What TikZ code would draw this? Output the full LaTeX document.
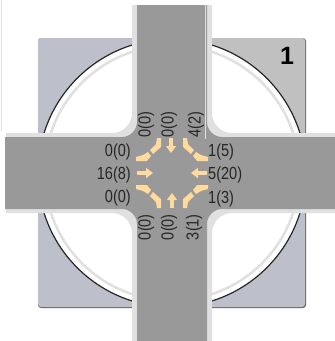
\documentclass[tikz,border=0pt]{standalone}
\usepackage{fontspec}
\setmainfont{Liberation Sans}
\newfontfamily\countfont[FakeStretch=0.83]{Liberation Sans}
\usetikzlibrary{arrows.meta}
\definecolor{islandblue}{RGB}{189, 192, 202}
\definecolor{islandgrey}{RGB}{192, 192, 192}
\definecolor{roadgrey}{RGB}{153, 153, 153}
\definecolor{kerblight}{RGB}{224, 224, 224}
\definecolor{movepale}{RGB}{255, 218, 158}
\begin{document}
\begin{tikzpicture}[
    x=1pt, y=-1pt,
    count/.style={font=\countfont\fontsize{17.5}{17.5}\selectfont, inner sep=0pt, text=black!85},
    countup/.style={count, rotate=90},
    through/.style={-{Triangle[width=10pt,length=7pt]}, line width=3.5pt, movepale},
    turning/.style={fill=movepale, draw=none}
]
    \useasboundingbox (0,0) rectangle (335,341);

    % Island and circle
    \fill[black!60, rounded corners=3pt] (38,38) rectangle (306,308);
    \fill[islandblue, rounded corners=3pt] (38,38) rectangle (305,307);
    \fill[islandgrey, rounded corners=3pt] (172,38) rectangle (305,173);
    \draw[black!85, line width=1.2pt, fill=white] (172,173) circle[radius=134pt];
    \draw[kerblight, line width=2.5pt] (172,173) circle[radius=127.5pt];
    \draw[kerblight, line width=0.8pt] (1,0) -- (1,131);

    % Roads
    \fill[kerblight] (132,5) -- (212,5) -- (212,113) .. controls (212,124) and (221,133) .. (232,133)
        -- (335,133) -- (335,213) -- (232,213) .. controls (221,213) and (212,222) .. (212,233)
        -- (212,341) -- (132,341) -- (132,233) .. controls (132,222) and (123,213) .. (112,213)
        -- (6,213) -- (6,133) -- (112,133) .. controls (123,133) and (132,124) .. (132,113) -- cycle;
    \fill[roadgrey] (137,5) -- (207,5) -- (207,122) .. controls (207,130) and (214,137) .. (222,137)
        -- (335,137) -- (335,209) -- (222,209) .. controls (214,209) and (207,216) .. (207,224)
        -- (207,341) -- (137,341) -- (137,224) .. controls (137,216) and (130,209) .. (122,209)
        -- (5,209) -- (5,137) -- (122,137) .. controls (130,137) and (137,130) .. (137,122) -- cycle;
    \draw[kerblight, line width=0.8pt] (205,5) -- (205,139);

    % Moves
    \draw[through] (171,138) -- (171,153);
    \draw[through] (137,173) -- (153,173);
    \draw[through] (207,173) -- (191,173);
    \draw[through] (172,208) -- (172,193);
    \foreach \sx/\sy in {-1/-1, 1/-1, -1/1, 1/1} {
        \begin{scope}[shift={(172,173)}, xscale=\sx, yscale=\sy]
            \fill[turning] (11,-35) -- (15,-35) -- (16,-29) -- (22,-23) -- (19,-19) -- (11,-26) -- cycle;
            \fill[turning] (24,-21) -- (29,-18) -- (36,-16) -- (36,-12) -- (25,-12) -- (21,-17) -- cycle;
        \end{scope}
    }

    % Counts
    \node[count, anchor=east] (westleft) at (131,152) {0(0)};
    \node[count, anchor=east] (westthru) at (131,175) {16(8)};
    \node[count, anchor=east] (westright) at (131,198) {0(0)};
    \node[count, anchor=west] (eastright) at (208,152) {1(5)};
    \node[count, anchor=west] (eastthru) at (208,175) {5(20)};
    \node[count, anchor=west] (eastleft) at (208,199) {1(3)};
    \node[countup, anchor=west] (northright) at (146,138) {0(0)};
    \node[countup, anchor=west] (norththru) at (169,138) {0(0)};
    \node[countup, anchor=west] (northleft) at (196,138) {4(2)};
    \node[countup, anchor=east] (southleft) at (146,214) {0(0)};
    \node[countup, anchor=east] (souththru) at (169,214) {0(0)};
    \node[countup, anchor=east] (southright) at (194,214) {3(1)};
    \node[font=\bfseries\fontsize{25}{25}\selectfont, inner sep=0pt] (junction) at (287,56) {1};
\end{tikzpicture}
\end{document}
